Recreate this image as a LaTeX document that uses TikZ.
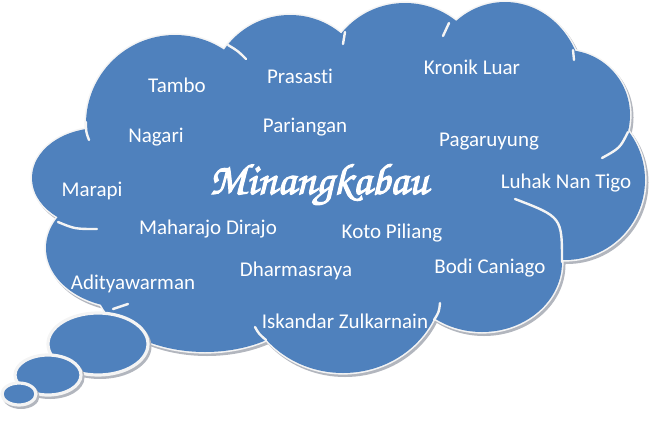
\documentclass[tikz,border=0pt]{standalone}
\usepackage{fontspec}
\setmainfont[Ligatures=NoCommon]{Carlito}
\newfontfamily\judulfont[FakeBold=2.5]{texgyrechorus-mediumitalic.otf}
\definecolor{awan}{RGB}{79,129,189}
\definecolor{tepi}{RGB}{244,244,244}
\definecolor{bayang}{RGB}{178,182,190}
\tikzset{
  gelembung/.style={fill=awan},
  garis/.style={draw=tepi, line width=3.2pt},
  bayangan/.style={fill=bayang, draw=bayang, line width=3pt},
  ekor/.style={draw=tepi, line width=2.4pt, line cap=round},
  kata/.style={text=white, anchor=base, font=\fontsize{21}{24}\selectfont}
}
\newcommand{\bulatan}{175/124/89/89, 290/95/80/80, 405/85/82/82, 505/88/78/86,
  565/115/65/65, 565/180/80/80, 482/262/80/70, 343/280/100/93, 205/282/110/70,
  128/248/82/60, 100/178/68/50, 340/190/230/110}

\begin{document}
\begin{tikzpicture}[x=1pt, y=-1pt]
\useasboundingbox (0,0) rectangle (655,423);
\foreach \x/\y/\a/\b in \bulatan
  \path[bayangan] (\x+2,\y+2.5) ellipse [x radius=\a, y radius=\b];
\foreach \x/\y/\a/\b in \bulatan
  \path[garis] (\x,\y) ellipse [x radius=\a, y radius=\b];
\foreach \x/\y/\a/\b in \bulatan
  \path[gelembung] (\x,\y) ellipse [x radius=\a, y radius=\b];
\draw[ekor] (86,122) .. controls (86,132) .. (89,140);
\draw[ekor] (228,45) .. controls (238,51) .. (246,59);
\draw[ekor] (345,32) .. controls (344,38) .. (343,44);
\draw[ekor] (449,23) .. controls (446,29) .. (443,36);
\draw[ekor] (573,50) .. controls (574,55) .. (574,60);
\draw[ekor] (628,132) .. controls (620,148) .. (602,158);
\draw[ekor] (562,262) .. controls (562,217) .. (515,199);
\draw[ekor] (434,320) .. controls (439,312) .. (440,303);
\draw[ekor] (266,340) .. controls (259,334) .. (255,327);
\draw[ekor] (113,309) .. controls (120,307) .. (128,304);
\draw[ekor] (58,222) .. controls (75,229) .. (97,229);
\foreach \x/\y/\a/\b in {98/344/50/31, 48/375/33/20, 19/394/17/11} {
  \path[bayangan] (\x+2,\y+2.5) ellipse [x radius=\a, y radius=\b];
  \path[gelembung, garis] (\x,\y) ellipse [x radius=\a, y radius=\b];
}
\node (tambo) at (177,92) [kata] {Tambo};
\node (prasasti) at (300,83) [kata] {Prasasti};
\node (kronik) at (472,74) [kata] {Kronik Luar};
\node (nagari) at (156,142) [kata] {Nagari};
\node (pariangan) at (305,132) [kata] {Pariangan};
\node (pagaruyung) at (489,146) [kata] {Pagaruyung};
\node (marapi) at (92,196) [kata] {Marapi};
\node (judul) at (319,194) [kata, font=\judulfont\fontsize{44}{48}\selectfont] {Minangkabau};
\node (luhak) at (566,188) [kata] {Luhak Nan Tigo};
\node (maharajo) at (208,234) [kata] {Maharajo Dirajo};
\node (koto) at (392,238) [kata] {Koto Piliang};
\node (dharmasraya) at (296,276) [kata] {Dharmasraya};
\node (bodi) at (490,273) [kata] {Bodi Caniago};
\node (aditya) at (133,289) [kata] {Adityawarman};
\node (iskandar) at (345,328) [kata] {Iskandar Zulkarnain};
\end{tikzpicture}
\end{document}
